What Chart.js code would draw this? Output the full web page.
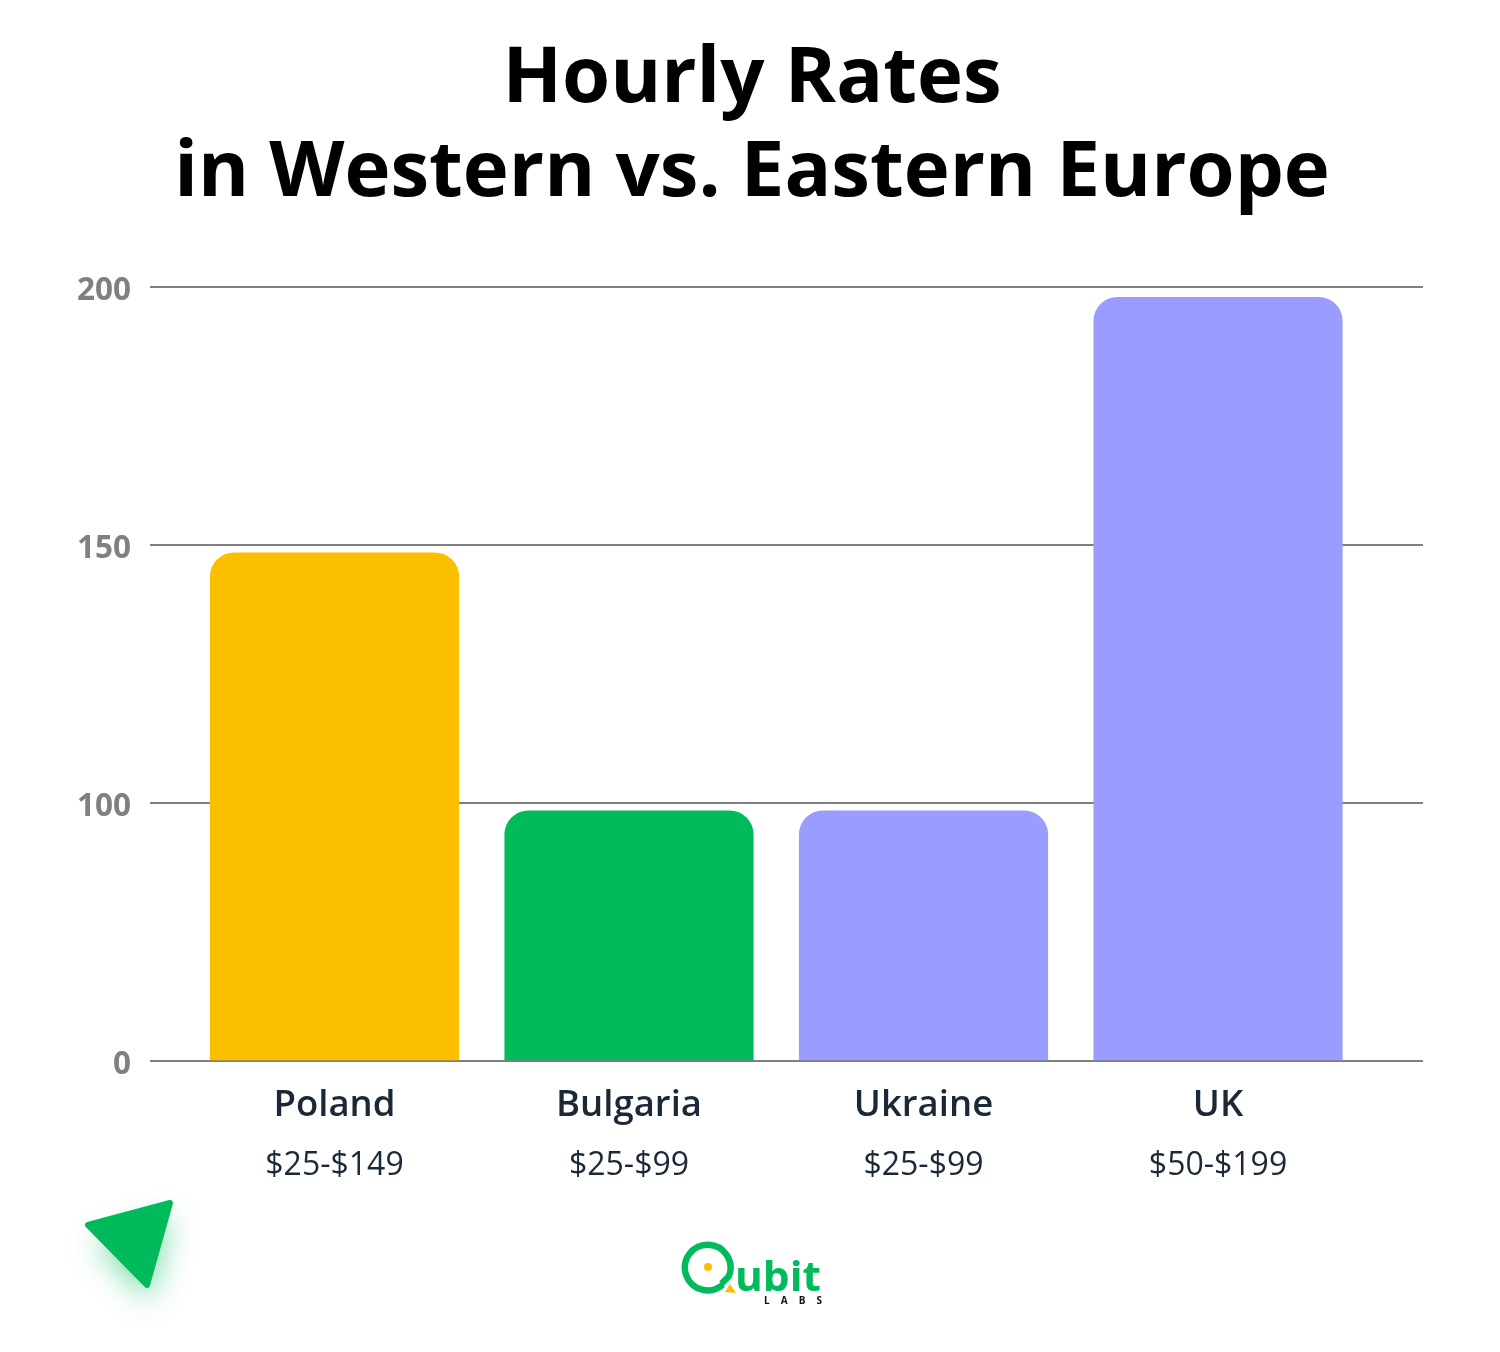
<!DOCTYPE HTML>
<html lang="en">
<head>
<meta charset="UTF-8">
<title>Hourly Rates in Western vs. Eastern Europe</title>
<script src="https://cdn.jsdelivr.net/npm/chart.js@4"></script>
<style>
html, body { margin: 0; padding: 0; background: #fff; }
#wrap { position: relative; width: 1500px; height: 1352px; overflow: hidden; }
#mychart { display: block; }
#deco { position: absolute; left: 0; top: 0; }
</style>
</head>
<body>
<div id="wrap">
    <canvas id="mychart" width="1500" height="1352"></canvas>
    <svg id="deco" width="1500" height="1352" viewBox="0 0 1500 1352">
        <defs>
            <filter id="glow" x="-80%" y="-80%" width="260%" height="260%">
                <feGaussianBlur stdDeviation="15"/>
            </filter>
        </defs>
        <!-- arrow bottom left -->
        <polygon points="92,1228 170,1204 147,1288" fill="#00ba5b" opacity="0.5" filter="url(#glow)" transform="translate(2,14)"/>
        <polygon points="88,1225 170,1203 147,1285" fill="#00ba5b" stroke="#00ba5b" stroke-width="6" stroke-linejoin="round"/>
        <!-- logo -->
        <path d="M722.8 1284.6 A22.8 22.8 0 1 1 728.6 1276.6 L721.5 1283.5" fill="none" stroke="#00ba5b" stroke-width="6.4"/>
        <circle cx="708" cy="1267" r="4" fill="#fbbf00"/>
        <polygon points="730,1284 736,1293 725,1292" fill="#fbbf00"/>
        <text x="735" y="1291" font-family="Open Sans" font-weight="700" font-size="42" fill="#00ba5b" textLength="86" lengthAdjust="spacingAndGlyphs">ubit</text>
        <text x="764" y="1304" font-family="Open Sans" font-weight="700" font-size="10" fill="#111" textLength="58">LABS</text>
    </svg>
</div>

<script>
const titleLines = ['Hourly Rates', 'in Western vs. Eastern Europe'];
const countries = ['Poland', 'Bulgaria', 'Ukraine', 'UK'];
const rateLabels = ['$25-$149', '$25-$99', '$25-$99', '$50-$199'];
const barValues = [148.5, 97, 97, 198];
const barColors = ['#fbbf00', '#00ba5b', '#9a9cff', '#9a9cff'];
const yTicks = [0, 100, 150, 200];
const slots = [0, 1, 2, 3];

// y axis of the picture is not uniform: 0,100,150,200 are evenly spaced
class StepScale extends Chart.LinearScale {
    getPixelForValue(value) {
        const last = yTicks.length - 1;
        let i = 0;
        while (i < last - 1 && value > yTicks[i + 1]) i++;
        const part = (value - yTicks[i]) / (yTicks[i + 1] - yTicks[i]);
        return this.getPixelForDecimal((i + part) / last);
    }
    // labels sit a little under their grid line
    drawLabels(area) {
        this.ctx.save();
        this.ctx.translate(0, 4);
        super.drawLabels(area);
        this.ctx.restore();
    }
}
StepScale.id = 'stepscale';
StepScale.defaults = {};
Chart.register(StepScale);

function slotTicks(scale) {
    scale.ticks = slots.map(function (v) { return { value: v }; });
}

const ctx = document.getElementById('mychart');
new Chart(ctx, {
    type: 'bar',
    data: {
        datasets: [{
            data: slots.map(function (s, i) { return { x: s, y: barValues[i] }; }),
            backgroundColor: barColors,
            barThickness: 248.5,
            borderRadius: { topLeft: 24, topRight: 24, bottomLeft: 0, bottomRight: 0 },
            borderSkipped: 'bottom'
        }]
    },
    options: {
        responsive: false,
        animation: false,
        layout: { padding: { left: 4, right: 0, top: 20, bottom: 161 } },
        plugins: {
            legend: { display: false },
            tooltip: { enabled: false },
            title: {
                display: true,
                text: titleLines,
                color: '#000',
                font: { family: 'Open Sans', weight: '700', size: 77.8, lineHeight: 1.208 },
                padding: { top: 13, bottom: 66 }
            }
        },
        scales: {
            x: {
                type: 'linear',
                min: -0.6265,
                max: 3.696,
                offset: false,
                grid: { display: false },
                border: { display: false },
                afterBuildTicks: slotTicks,
                afterFit: function (scale) { scale.height = 70; },
                ticks: {
                    autoSkip: false,
                    maxRotation: 0,
                    padding: 15,
                    color: '#1b2838',
                    font: { family: 'Open Sans', weight: '600', size: 36.5 },
                    callback: function (v) { return countries[v]; }
                }
            },
            x2: {
                type: 'linear',
                axis: 'x',
                position: 'bottom',
                weight: 1,
                min: -0.6265,
                max: 3.696,
                offset: false,
                grid: { display: false },
                border: { display: false },
                afterBuildTicks: slotTicks,
                afterFit: function (scale) { scale.height = 60; },
                ticks: {
                    autoSkip: false,
                    maxRotation: 0,
                    padding: 8,
                    color: '#1b2838',
                    font: { family: 'Open Sans', weight: '400', size: 32 },
                    callback: function (v) { return rateLabels[v]; }
                }
            },
            y: {
                type: 'stepscale',
                min: 0,
                max: 200,
                afterBuildTicks: function (scale) {
                    scale.ticks = yTicks.map(function (v) { return { value: v }; });
                },
                afterFit: function (scale) { scale.width = 146; },
                grid: { color: '#808080', lineWidth: 2, drawTicks: false },
                border: { display: false },
                ticks: {
                    padding: 19,
                    color: '#808080',
                    font: { family: 'Open Sans', weight: '700', size: 31.5 }
                }
            },
            // empty axis, keeps the plot off the right edge while the title stays centred on the page
            spacer: {
                type: 'linear',
                axis: 'y',
                position: 'right',
                min: 0,
                max: 1,
                grid: { display: false },
                border: { display: false },
                ticks: { display: false },
                afterFit: function (scale) { scale.width = 77; }
            }
        }
    }
});
</script>
</body>
</html>
